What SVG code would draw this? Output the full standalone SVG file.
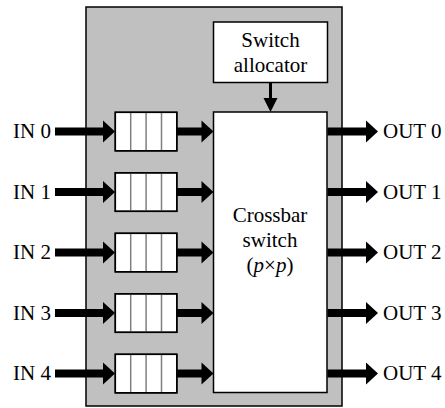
<svg xmlns="http://www.w3.org/2000/svg" width="445" height="408" viewBox="0 0 445 408">
<style>
  .box{fill:#fff;stroke:#000;stroke-width:1.5}
  .div{stroke:#7f7f7f;stroke-width:1.5}
  .fat{stroke:#000;stroke-width:8;fill:none}
  .thin{stroke:#000;stroke-width:3;fill:none}
</style>
<defs>
  <marker id="big" markerUnits="userSpaceOnUse" markerWidth="13" markerHeight="22" refX="1" refY="11" orient="auto" overflow="visible">
    <path d="M0,0 L12,11 L0,22 Z" fill="#000"/>
  </marker>
  <marker id="small" markerUnits="userSpaceOnUse" markerWidth="15" markerHeight="14" refX="1" refY="7" orient="auto" overflow="visible">
    <path d="M0,0 L14,7 L0,14 Z" fill="#000"/>
  </marker>
  <g id="buf">
    <rect class="box" x="0" y="0" width="61.5" height="38.5"/>
    <line class="div" x1="15.4" y1="0" x2="15.4" y2="38.5"/>
    <line class="div" x1="30.8" y1="0" x2="30.8" y2="38.5"/>
    <line class="div" x1="46.2" y1="0" x2="46.2" y2="38.5"/>
    <rect x="0" y="0" width="61.5" height="38.5" fill="none" stroke="#000" stroke-width="1.5"/>
  </g>
</defs>

<g id="router">
  <rect x="86" y="7" width="256" height="399" fill="#c0c0c0" stroke="#000" stroke-width="1.5"/>
</g>

<g id="allocator" font-family="Liberation Serif" font-size="21">
  <rect class="box" x="213.5" y="22" width="114" height="60.5"/>
  <text x="270.5" y="47" text-anchor="middle">Switch</text>
  <text x="270.5" y="72" text-anchor="middle">allocator</text>
</g>

<g id="crossbar" font-family="Liberation Serif" font-size="21">
  <rect class="box" x="213.5" y="112" width="113.5" height="280.5"/>
  <text x="270" y="222" text-anchor="middle">Crossbar</text>
  <text x="270" y="247" text-anchor="middle">switch</text>
  <text x="270" y="271.5" text-anchor="middle">(<tspan font-style="italic">p</tspan>×<tspan font-style="italic">p</tspan>)</text>
</g>

<g id="buffer0"><use href="#buf" x="115.3" y="112.3"/></g>
<g id="buffer1"><use href="#buf" x="115.3" y="172.8"/></g>
<g id="buffer2"><use href="#buf" x="115.3" y="233.3"/></g>
<g id="buffer3"><use href="#buf" x="115.3" y="293.8"/></g>
<g id="buffer4"><use href="#buf" x="115.3" y="354.3"/></g>

<g id="inputs" font-family="Liberation Serif" font-size="21">
  <text x="13" y="138">IN 0</text>
  <text x="13" y="198.5">IN 1</text>
  <text x="13" y="259">IN 2</text>
  <text x="13" y="319.5">IN 3</text>
  <text x="13" y="380">IN 4</text>
</g>
<g id="outputs" font-family="Liberation Serif" font-size="21">
  <text x="383" y="138">OUT 0</text>
  <text x="383" y="198.5">OUT 1</text>
  <text x="383" y="259">OUT 2</text>
  <text x="383" y="319.5">OUT 3</text>
  <text x="383" y="380">OUT 4</text>
</g>

<g id="connectors">
  <line class="thin" x1="270.5" y1="82.5" x2="270.5" y2="99" marker-end="url(#small)"/>
  <line class="fat" x1="55" y1="131.5" x2="104" y2="131.5" marker-end="url(#big)"/>
  <line class="fat" x1="55" y1="192" x2="104" y2="192" marker-end="url(#big)"/>
  <line class="fat" x1="55" y1="252.5" x2="104" y2="252.5" marker-end="url(#big)"/>
  <line class="fat" x1="55" y1="313" x2="104" y2="313" marker-end="url(#big)"/>
  <line class="fat" x1="55" y1="373.5" x2="104" y2="373.5" marker-end="url(#big)"/>
  <line class="fat" x1="177" y1="131.5" x2="202.5" y2="131.5" marker-end="url(#big)"/>
  <line class="fat" x1="177" y1="192" x2="202.5" y2="192" marker-end="url(#big)"/>
  <line class="fat" x1="177" y1="252.5" x2="202.5" y2="252.5" marker-end="url(#big)"/>
  <line class="fat" x1="177" y1="313" x2="202.5" y2="313" marker-end="url(#big)"/>
  <line class="fat" x1="177" y1="373.5" x2="202.5" y2="373.5" marker-end="url(#big)"/>
  <line class="fat" x1="327.5" y1="131.5" x2="367" y2="131.5" marker-end="url(#big)"/>
  <line class="fat" x1="327.5" y1="192" x2="367" y2="192" marker-end="url(#big)"/>
  <line class="fat" x1="327.5" y1="252.5" x2="367" y2="252.5" marker-end="url(#big)"/>
  <line class="fat" x1="327.5" y1="313" x2="367" y2="313" marker-end="url(#big)"/>
  <line class="fat" x1="327.5" y1="373.5" x2="367" y2="373.5" marker-end="url(#big)"/>
</g>
</svg>
